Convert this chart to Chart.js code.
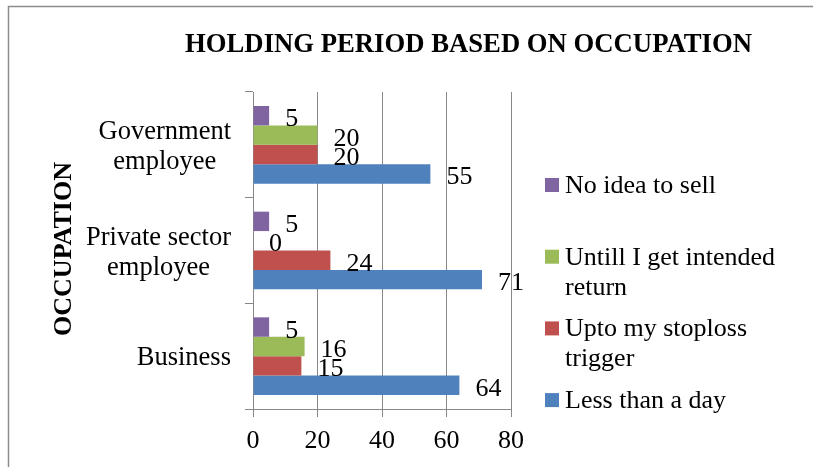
<!DOCTYPE html>
<html>
<head>
<meta charset="utf-8">
<title>HOLDING PERIOD BASED ON OCCUPATION</title>
<script src="https://cdn.jsdelivr.net/npm/chart.js@4/dist/chart.umd.min.js"></script>
<style>
  html, body { margin: 0; padding: 0; background: #fff; }
  #wrap { width: 813px; height: 467px; }
</style>
</head>
<body>
<div id="wrap"><canvas id="mainChart" width="813" height="467"></canvas></div>
<script>
// データ
const categories = ['Government employee', 'Private sector employee', 'Business'];
const categoryLines = [['Government', 'employee'], ['Private sector', 'employee'], ['Business']];
const seriesNames = ['No idea to sell', 'Untill I get intended return', 'Upto my stoploss trigger', 'Less than a day'];
const legendLines = [['No idea to sell'], ['Untill I get intended', 'return'], ['Upto my stoploss', 'trigger'], ['Less than a day']];
const noIdea = [5, 5, 5];
const untillReturn = [20, 0, 16];
const uptoStoploss = [20, 24, 15];
const lessThanDay = [55, 71, 64];
const xTicks = [0, 20, 40, 60, 80];

const colors = ['#8064A2', '#9BBB59', '#C0504D', '#4F81BD'];
const serif = "'Liberation Serif', 'Times New Roman', serif";
const gridColor = '#888888';

// タイトル・軸タイトル・カテゴリ名・凡例・数値ラベルを描く
const decorPlugin = {
    id: 'decor',
    afterDraw(chart) {
        const ctx = chart.ctx;
        const yScale = chart.scales.y;
        ctx.save();

        // 外枠
        ctx.strokeStyle = '#8c8c8c';
        ctx.lineWidth = 1.5;
        ctx.beginPath();
        ctx.moveTo(8.5, 467);
        ctx.lineTo(8.5, 6.5);
        ctx.lineTo(813, 6.5);
        ctx.stroke();

        ctx.fillStyle = '#000';

        // タイトル
        ctx.font = 'bold 26.7px ' + serif;
        ctx.textAlign = 'center';
        ctx.textBaseline = 'alphabetic';
        ctx.fillText('HOLDING PERIOD BASED ON OCCUPATION', 468.5, 52);

        // 縦軸タイトル
        ctx.save();
        ctx.font = 'bold 26px ' + serif;
        ctx.translate(71, 249);
        ctx.rotate(-Math.PI / 2);
        ctx.fillText('OCCUPATION', 0, 0);
        ctx.restore();

        // カテゴリ名（右寄せのブロック内で中央揃え）
        ctx.font = '26.5px ' + serif;
        categoryLines.forEach((lines, i) => {
            const cy = yScale.getPixelForValue(i);
            let w = Math.max(...lines.map(t => ctx.measureText(t).width));
            const cx = 231 - w / 2;
            const first = cy + 9 - (lines.length - 1) * 15;
            lines.forEach((t, j) => {
                ctx.fillText(t, cx, first + j * 30);
            });
        });

        // 数値ラベル
        ctx.font = '26px ' + serif;
        ctx.textAlign = 'left';
        chart.data.datasets.forEach((ds, di) => {
            const meta = chart.getDatasetMeta(di);
            meta.data.forEach((bar, i) => {
                ctx.fillText(String(ds.data[i]), bar.x + 16, bar.y + 10.5);
            });
        });

        // 凡例
        legendLines.forEach((lines, i) => {
            const base = 193 + i * 71.7;
            ctx.fillStyle = colors[i];
            ctx.fillRect(545, base - 15, 14, 14);
            ctx.fillStyle = '#000';
            lines.forEach((t, j) => {
                ctx.fillText(t, 565, base + j * 30);
            });
        });

        ctx.restore();
    }
};

const datasets = [noIdea, untillReturn, uptoStoploss, lessThanDay].map((vals, i) => ({
    label: seriesNames[i],
    data: vals,
    backgroundColor: colors[i],
    borderWidth: 0,
    categoryPercentage: 0.735,
    barPercentage: 1
}));

const chrt = document.getElementById('mainChart').getContext('2d');
const mainChart = new Chart(chrt, {
    type: 'bar',
    data: {
        labels: categories,
        datasets: datasets
    },
    plugins: [decorPlugin],
    options: {
        indexAxis: 'y',
        responsive: false,
        animation: false,
        layout: {
            padding: { left: 0, right: 302, top: 92, bottom: 0 }
        },
        plugins: {
            legend: { display: false },
            title: { display: false },
            tooltip: { enabled: false }
        },
        scales: {
            x: {
                min: 0,
                max: 80,
                afterFit(scale) { scale.height = 58; },
                afterBuildTicks(scale) { scale.ticks = xTicks.map(v => ({ value: v })); },
                grid: {
                    color: gridColor,
                    lineWidth: 1,
                    tickLength: 8,
                    tickColor: gridColor
                },
                border: { color: gridColor, width: 1 },
                ticks: {
                    color: '#000',
                    padding: 9,
                    font: { family: serif, size: 26 }
                }
            },
            y: {
                afterFit(scale) { scale.width = 253; },
                grid: {
                    offset: true,
                    drawOnChartArea: false,
                    tickLength: 8,
                    tickColor: gridColor
                },
                border: { color: gridColor, width: 1 },
                ticks: { display: false }
            }
        }
    }
});
</script>
</body>
</html>
